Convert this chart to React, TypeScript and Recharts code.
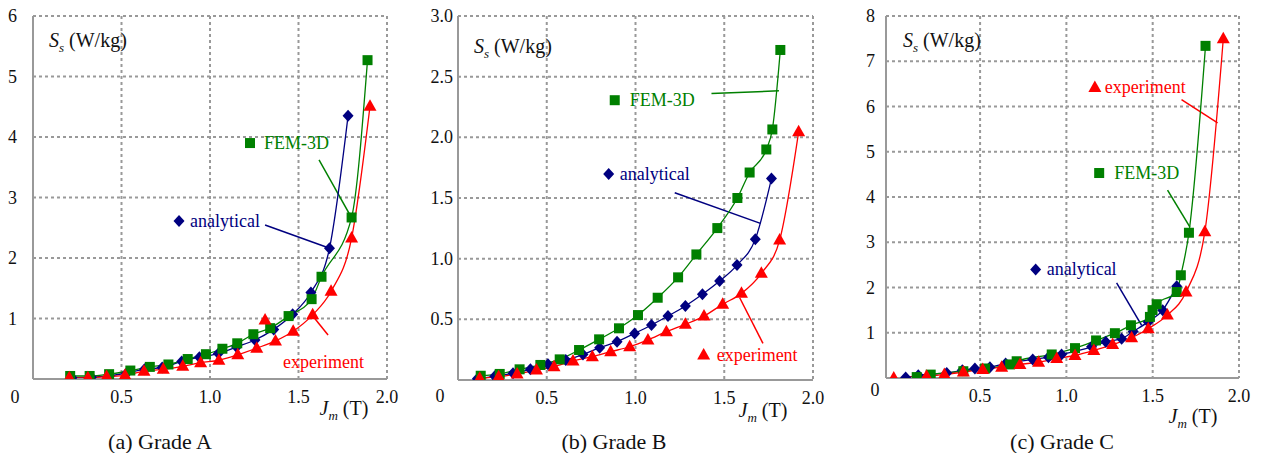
import { CartesianGrid, Line, LineChart, ReferenceDot, ReferenceLine, XAxis, YAxis } from "recharts";

const SERIF = "'Liberation Serif', 'DejaVu Serif', serif";
const BLUE = "#000080";
const GREEN = "#008000";
const RED = "#ff0000";
const GRID = "#999999";

const xTicks = [0, 0.5, 1, 1.5, 2];
// panel (c) starts its frame a little left of J = 0
const cXMin = -0.045;
const cXTicks = [cXMin, 0.5, 1, 1.5, 2];

// (a) Grade A
const aAnalyticalX = [0.22, 0.33, 0.43, 0.53, 0.63, 0.73, 0.84, 0.94, 1.047, 1.15, 1.254, 1.36, 1.467, 1.57, 1.675, 1.78];
const aAnalyticalY = [0.02, 0.03, 0.05, 0.1, 0.16, 0.19, 0.29, 0.36, 0.42, 0.53, 0.645, 0.82, 1.07, 1.43, 2.16, 4.35];
const aFemX = [0.21, 0.32, 0.43, 0.55, 0.66, 0.765, 0.874, 0.977, 1.07, 1.154, 1.245, 1.34, 1.444, 1.574, 1.63, 1.8, 1.89];
const aFemY = [0.05, 0.05, 0.08, 0.14, 0.2, 0.24, 0.33, 0.41, 0.5, 0.59, 0.74, 0.84, 1.04, 1.32, 1.69, 2.67, 5.27];
const aExpX = [0.205, 0.31, 0.416, 0.52, 0.627, 0.736, 0.846, 0.947, 1.05, 1.157, 1.264, 1.37, 1.47, 1.58, 1.684, 1.8, 1.904];
const aExpY = [0.02, 0.02, 0.04, 0.06, 0.13, 0.16, 0.21, 0.27, 0.31, 0.4, 0.51, 0.63, 0.79, 1.06, 1.45, 2.33, 4.51];

// (b) Grade B
const bAnalyticalX = [0.109, 0.207, 0.31, 0.408, 0.507, 0.607, 0.704, 0.798, 0.896, 0.995, 1.09, 1.183, 1.281, 1.377, 1.474, 1.572, 1.675, 1.766];
const bAnalyticalY = [0.01, 0.03, 0.055, 0.088, 0.129, 0.165, 0.21, 0.266, 0.316, 0.384, 0.453, 0.527, 0.61, 0.706, 0.815, 0.947, 1.161, 1.66];
const bFemX = [0.128, 0.235, 0.347, 0.464, 0.573, 0.682, 0.795, 0.907, 1.014, 1.125, 1.24, 1.343, 1.461, 1.574, 1.643, 1.737, 1.771, 1.816];
const bFemY = [0.035, 0.05, 0.088, 0.124, 0.17, 0.247, 0.335, 0.426, 0.535, 0.678, 0.846, 1.035, 1.252, 1.5, 1.71, 1.9, 2.065, 2.72];
const bExpX = [0.122, 0.229, 0.333, 0.442, 0.541, 0.648, 0.757, 0.86, 0.967, 1.07, 1.174, 1.281, 1.386, 1.491, 1.597, 1.709, 1.812, 1.919];
const bExpY = [0.014, 0.027, 0.05, 0.082, 0.11, 0.157, 0.192, 0.233, 0.274, 0.33, 0.398, 0.459, 0.527, 0.624, 0.714, 0.879, 1.153, 2.045];

// (c) Grade C
const cAnalyticalX = [0.069, 0.142, 0.307, 0.397, 0.47, 0.557, 0.648, 0.805, 0.896, 0.972, 1.146, 1.228, 1.32, 1.387, 1.474, 1.558, 1.639];
const cAnalyticalY = [0.01, 0.06, 0.11, 0.17, 0.21, 0.24, 0.32, 0.41, 0.46, 0.52, 0.69, 0.8, 0.87, 1.03, 1.24, 1.5, 2.03];
const cFemX = [0.133, 0.214, 0.403, 0.529, 0.674, 0.712, 0.915, 1.05, 1.172, 1.281, 1.374, 1.484, 1.499, 1.523, 1.639, 1.663, 1.71, 1.806];
const cFemY = [0.02, 0.075, 0.15, 0.21, 0.3, 0.37, 0.52, 0.66, 0.83, 0.99, 1.165, 1.35, 1.5, 1.63, 1.9, 2.27, 3.21, 7.34];
const cExpX = [0, 0.19, 0.293, 0.403, 0.515, 0.625, 0.731, 0.839, 0.944, 1.05, 1.159, 1.268, 1.378, 1.474, 1.585, 1.693, 1.802, 1.909];
const cExpY = [0, 0.04, 0.075, 0.13, 0.19, 0.24, 0.3, 0.35, 0.43, 0.5, 0.61, 0.74, 0.89, 1.09, 1.39, 1.9, 3.23, 7.5];

type Kind = "diamond" | "square" | "triangle" | "none";
type Note = { text: string; x: number; y: number; kind: Kind; color: string; gap: number };
type Leader = { x1: number; y1: number; x2: number; y2: number; color: string };

const aNotes: Note[] = [
  { text: "analytical", x: 0.825, y: 2.61, kind: "diamond", color: BLUE, gap: 11 },
  { text: "FEM-3D", x: 1.226, y: 3.9, kind: "square", color: GREEN, gap: 14 },
  { text: "", x: 1.311, y: 0.975, kind: "triangle", color: RED, gap: 0 },
  { text: "experiment", x: 1.412, y: 0.28, kind: "none", color: RED, gap: 0 },
];
const aLeaders: Leader[] = [
  { x1: 1.311, y1: 2.545, x2: 1.672, y2: 2.165, color: BLUE },
  { x1: 1.616, y1: 3.62, x2: 1.797, y2: 2.68, color: GREEN },
  { x1: 1.667, y1: 0.727, x2: 1.576, y2: 1.058, color: RED },
];

const bNotes: Note[] = [
  { text: "FEM-3D", x: 0.883, y: 2.306, kind: "square", color: GREEN, gap: 15 },
  { text: "analytical", x: 0.849, y: 1.697, kind: "diamond", color: BLUE, gap: 11 },
  { text: "experiment", x: 1.384, y: 0.206, kind: "triangle", color: RED, gap: 13 },
];
const bLeaders: Leader[] = [
  { x1: 1.428, y1: 2.362, x2: 1.808, y2: 2.383, color: GREEN },
  { x1: 1.221, y1: 1.543, x2: 1.704, y2: 1.291, color: BLUE },
  { x1: 1.718, y1: 0.302, x2: 1.587, y2: 0.678, color: RED },
];

const cNotes: Note[] = [
  { text: "experiment", x: 1.165, y: 6.42, kind: "triangle", color: RED, gap: 10 },
  { text: "FEM-3D", x: 1.19, y: 4.53, kind: "square", color: GREEN, gap: 15 },
  { text: "analytical", x: 0.822, y: 2.4, kind: "diamond", color: BLUE, gap: 11 },
];
const cLeaders: Leader[] = [
  { x1: 1.667, y1: 6.15, x2: 1.876, y2: 5.64, color: RED },
  { x1: 1.586, y1: 4.15, x2: 1.715, y2: 3.34, color: GREEN },
  { x1: 1.291, y1: 2.1, x2: 1.436, y2: 1.165, color: BLUE },
];

const zip = (xs: number[], ys: number[]) => xs.map((x, i) => ({ x, y: ys[i] }));

function Marker({ kind, cx, cy, color }: { kind: Kind; cx: number; cy: number; color: string }) {
  if (kind === "diamond")
    return <path d={`M${cx},${cy - 6}L${cx + 5.5},${cy}L${cx},${cy + 6}L${cx - 5.5},${cy}Z`} fill={color} />;
  if (kind === "square") return <rect x={cx - 5} y={cy - 5} width={10} height={10} fill={color} />;
  if (kind === "triangle")
    return <path d={`M${cx},${cy - 7}L${cx + 6.5},${cy + 4.5}L${cx - 6.5},${cy + 4.5}Z`} fill={color} />;
  return null;
}

type PanelProps = {
  left: number;
  width: number;
  margin: { top: number; right: number; bottom: number; left: number };
  xMin: number;
  xTicks: number[];
  yMax: number;
  yTicks: number[];
  yDecimals: number;
  yTickMargin: number;
  zeroDx: number;
  zeroDy: number;
  analytical: { x: number; y: number }[];
  fem: { x: number; y: number }[];
  exp: { x: number; y: number }[];
  notes: Note[];
  leaders: Leader[];
};

function Panel(p: PanelProps) {
  const XTick = (t: any) => {
    const v = t.payload.value as number;
    const first = v === p.xMin;
    return (
      <text
        x={t.x + (first ? p.zeroDx : 0)}
        y={t.y + (first ? p.zeroDy : 0)}
        textAnchor="middle"
        dominantBaseline="central"
        style={{ fontFamily: SERIF }}
        fontSize={18}
        fill="#111"
      >
        {first ? "0" : v.toFixed(1)}
      </text>
    );
  };
  const YTick = (t: any) => {
    const v = t.payload.value as number;
    if (v === 0) return <g />;
    return (
      <text x={t.x} y={t.y} textAnchor="end" dominantBaseline="central" style={{ fontFamily: SERIF }}
        fontSize={18} fill="#111">
        {v.toFixed(p.yDecimals)}
      </text>
    );
  };
  const dotFor = (kind: Kind, color: string) => (d: any) =>
    <Marker key={`${kind}-${d.index}`} kind={kind} cx={d.cx} cy={d.cy} color={color} />;

  return (
    <div style={{ position: "absolute", left: p.left, top: 0 }}>
      <LineChart width={p.width} height={453} margin={p.margin}>
        <CartesianGrid stroke={GRID} strokeDasharray="3 3" strokeWidth={2} />
        <XAxis
          type="number"
          dataKey="x"
          domain={[p.xMin, 2]}
          ticks={p.xTicks}
          height={30}
          tickLine={false}
          tickSize={0}
          tickMargin={18}
          axisLine={{ stroke: GRID, strokeWidth: 2 }}
          tick={XTick}
          allowDataOverflow
        />
        <YAxis
          type="number"
          domain={[0, p.yMax]}
          ticks={p.yTicks}
          width={30}
          tickLine={false}
          tickSize={0}
          tickMargin={p.yTickMargin}
          axisLine={{ stroke: GRID, strokeWidth: 2 }}
          tick={YTick}
          allowDataOverflow
        />
        {p.leaders.map((l, i) => (
          <ReferenceLine
            key={`l${i}`}
            segment={[
              { x: l.x1, y: l.y1 },
              { x: l.x2, y: l.y2 },
            ]}
            stroke={l.color}
            strokeWidth={1.5}
            ifOverflow="visible"
          />
        ))}
        <Line data={p.analytical} dataKey="y" type="monotone" stroke={BLUE} strokeWidth={1.3}
          dot={dotFor("diamond", BLUE)} activeDot={false} isAnimationActive={false} />
        <Line data={p.fem} dataKey="y" type="monotone" stroke={GREEN} strokeWidth={1.3}
          dot={dotFor("square", GREEN)} activeDot={false} isAnimationActive={false} />
        <Line data={p.exp} dataKey="y" type="monotone" stroke={RED} strokeWidth={1.3}
          dot={dotFor("triangle", RED)} activeDot={false} isAnimationActive={false} />
        {p.notes.map((n, i) => (
          <ReferenceDot
            key={`n${i}`}
            x={n.x}
            y={n.y}
            ifOverflow="visible"
            shape={(s: any) => (
              <g>
                <Marker kind={n.kind} cx={s.cx} cy={s.cy} color={n.color} />
                {n.text && (
                  <text x={s.cx + n.gap} y={s.cy} dominantBaseline="central" style={{ fontFamily: SERIF }}
                    fontSize={18} fill={n.color}>
                    {n.text}
                  </text>
                )}
              </g>
            )}
          />
        ))}
      </LineChart>
    </div>
  );
}

const txt = (left: number, top: number, size: number, children: any, center = false) => (
  <div
    style={{
      position: "absolute",
      left,
      top,
      fontFamily: SERIF,
      fontSize: size,
      lineHeight: 1,
      whiteSpace: "nowrap",
      color: "#111",
      transform: center ? "translate(-50%, -50%)" : "translateY(-50%)",
    }}
  >
    {children}
  </div>
);

const ssTitle = (
  <span>
    <i>S</i>
    <sub style={{ fontSize: "0.65em" }}><i>s</i></sub> (W/kg)
  </span>
);
const jmTitle = (
  <span>
    <i>J</i>
    <sub style={{ fontSize: "0.65em" }}><i>m</i></sub> (T)
  </span>
);

export default function App() {
  return (
    <div style={{ position: "absolute", left: 0, top: 0, width: 1266, height: 453, background: "#fff" }}>
      <Panel
        left={0}
        width={420}
        margin={{ top: 16, right: 33, bottom: 44, left: 3 }}
        xMin={0}
        xTicks={xTicks}
        yMax={6}
        yTicks={[0, 1, 2, 3, 4, 5, 6]}
        yDecimals={0}
        yTickMargin={16}
        zeroDx={-18}
        zeroDy={0}
        analytical={zip(aAnalyticalX, aAnalyticalY)}
        fem={zip(aFemX, aFemY)}
        exp={zip(aExpX, aExpY)}
        notes={aNotes}
        leaders={aLeaders}
      />
      <Panel
        left={420}
        width={420}
        margin={{ top: 16, right: 27, bottom: 43, left: 8 }}
        xMin={0}
        xTicks={xTicks}
        yMax={3}
        yTicks={[0, 0.5, 1, 1.5, 2, 2.5, 3]}
        yDecimals={1}
        yTickMargin={5}
        zeroDx={-18}
        zeroDy={-2}
        analytical={zip(bAnalyticalX, bAnalyticalY)}
        fem={zip(bFemX, bFemY)}
        exp={zip(bExpX, bExpY)}
        notes={bNotes}
        leaders={bLeaders}
      />
      <Panel
        left={840}
        width={426}
        margin={{ top: 16, right: 27, bottom: 45, left: 16 }}
        xMin={cXMin}
        xTicks={cXTicks}
        yMax={8}
        yTicks={[0, 1, 2, 3, 4, 5, 6, 7, 8]}
        yDecimals={0}
        yTickMargin={11}
        zeroDx={-11}
        zeroDy={-6}
        analytical={zip(cAnalyticalX, cAnalyticalY)}
        fem={zip(cFemX, cFemY)}
        exp={zip(cExpX, cExpY)}
        notes={cNotes}
        leaders={cLeaders}
      />
      {txt(49, 42, 20, ssTitle)}
      {txt(474, 48, 20, ssTitle)}
      {txt(903, 42, 20, ssTitle)}
      {txt(344, 410, 20, jmTitle, true)}
      {txt(763, 412, 20, jmTitle, true)}
      {txt(1193, 418, 20, jmTitle, true)}
      {txt(160, 442, 22, "(a) Grade A", true)}
      {txt(614, 442, 22, "(b) Grade B", true)}
      {txt(1062, 442, 22, "(c) Grade C", true)}
    </div>
  );
}
